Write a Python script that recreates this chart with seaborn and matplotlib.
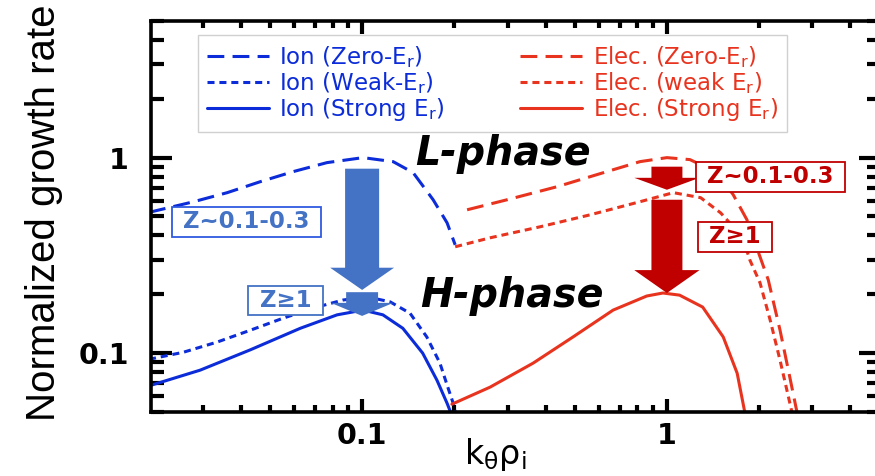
import numpy as np
import pandas as pd
import seaborn as sns
import matplotlib.pyplot as plt
from matplotlib.ticker import FixedLocator, LogLocator, NullFormatter, FuncFormatter

# values: k_theta*rho_i and normalized growth rate
ion_zero_k = [0.02, 0.0279, 0.0361, 0.0463, 0.0594, 0.0767, 0.1007, 0.1264, 0.147, 0.171, 0.190, 0.202]
ion_zero_g = [0.525, 0.594, 0.662, 0.753, 0.848, 0.943, 1.0, 0.954, 0.838, 0.609, 0.464, 0.358]

ion_weak_k = [0.02, 0.0259, 0.0335, 0.043, 0.0551, 0.0711, 0.0867, 0.104, 0.1235, 0.1436, 0.163, 0.180, 0.191, 0.199, 0.202]
ion_weak_g = [0.093, 0.101, 0.114, 0.131, 0.151, 0.172, 0.187, 0.194, 0.183, 0.160, 0.121, 0.0889, 0.067, 0.0554, 0.05]

ion_strong_k = [0.02, 0.0294, 0.043, 0.0627, 0.0828, 0.1007, 0.117, 0.136, 0.158, 0.176, 0.19, 0.195]
ion_strong_g = [0.068, 0.0818, 0.104, 0.134, 0.157, 0.166, 0.157, 0.134, 0.100, 0.0727, 0.0554, 0.05]

elec_zero_k = [0.221, 0.299, 0.436, 0.635, 0.816, 1.0, 1.19, 1.46, 1.65, 1.83, 2.02, 2.15, 2.35, 2.53, 2.67]
elec_zero_g = [0.541, 0.609, 0.710, 0.848, 0.954, 1.0, 0.977, 0.838, 0.646, 0.481, 0.311, 0.237, 0.131, 0.0753, 0.05]

elec_weak_k = [0.202, 0.263, 0.384, 0.560, 0.816, 1.05, 1.29, 1.50, 1.77, 1.87, 2.02, 2.18, 2.35, 2.57]
elec_weak_g = [0.350, 0.389, 0.443, 0.510, 0.595, 0.662, 0.624, 0.522, 0.393, 0.300, 0.229, 0.148, 0.092, 0.05]

elec_strong_k = [0.197, 0.263, 0.364, 0.492, 0.666, 0.859, 0.970, 1.10, 1.31, 1.53, 1.70, 1.80]
elec_strong_g = [0.0548, 0.067, 0.0889, 0.121, 0.166, 0.196, 0.203, 0.198, 0.172, 0.121, 0.0789, 0.05]

labels = ['Ion (Zero-E$_\\mathregular{r}$)', 'Ion (Weak-E$_\\mathregular{r}$)', 'Ion (Strong E$_\\mathregular{r}$)',
          'Elec. (Zero-E$_\\mathregular{r}$)', 'Elec. (weak E$_\\mathregular{r}$)', 'Elec. (Strong E$_\\mathregular{r}$)']

blue = '#0b2cd8'
red = '#e8341f'
long_dash = (5.5, 2.7)
short_dash = (2.3, 1.6)

sns.set_theme(style='ticks')
plt.rcParams['font.family'] = ['DejaVu Sans']
plt.rcParams['mathtext.fontset'] = 'dejavusans'
plt.rcParams['text.color'] = 'black'
plt.rcParams['axes.labelcolor'] = 'black'
plt.rcParams['xtick.color'] = 'black'
plt.rcParams['ytick.color'] = 'black'

fig = plt.figure(figsize=(8.75, 4.76), dpi=100)
ax = fig.add_axes([0.1726, 0.1345, 0.8331, 0.8214])
ax.set_xscale('log')
ax.set_yscale('log')

series = [
    (ion_zero_k, ion_zero_g, blue, long_dash),
    (ion_weak_k, ion_weak_g, blue, short_dash),
    (ion_strong_k, ion_strong_g, blue, None),
    (elec_zero_k, elec_zero_g, red, long_dash),
    (elec_weak_k, elec_weak_g, red, short_dash),
    (elec_strong_k, elec_strong_g, red, None),
]
for lab, (k, g, col, dash) in zip(labels, series):
    df = pd.DataFrame({'k': k, 'gamma': g})
    sns.lineplot(data=df, x='k', y='gamma', ax=ax, color=col, lw=2.2, label=lab)
    if dash is not None:
        ax.lines[-1].set_dashes(dash)

ax.set_xlim(0.0203, 5.0)
ax.set_ylim(0.05, 5.0)

fmt = FuncFormatter(lambda v, _: f'{v:g}')
ax.xaxis.set_major_locator(FixedLocator([0.1, 1]))
ax.yaxis.set_major_locator(FixedLocator([0.1, 1]))
ax.xaxis.set_major_formatter(fmt)
ax.yaxis.set_major_formatter(fmt)
for axis in (ax.xaxis, ax.yaxis):
    axis.set_minor_locator(LogLocator(base=10, subs=np.arange(2, 10), numticks=20))
    axis.set_minor_formatter(NullFormatter())

ax.tick_params(which='both', direction='in', top=True, right=True, width=3, color='black',
               labelcolor='black', labelsize=20.5)
ax.tick_params(axis='x', which='major', length=9.5, pad=7)
ax.tick_params(axis='x', which='minor', length=5)
ax.tick_params(axis='y', which='major', length=15, pad=16)
ax.tick_params(axis='y', which='minor', length=9.5)
plt.setp(ax.get_xticklabels() + ax.get_yticklabels(), fontweight='bold')
for sp in ax.spines.values():
    sp.set_linewidth(2.6)
    sp.set_color('black')

ax.set_ylabel('Normalized growth rate', family=['Liberation Sans', 'DejaVu Sans'], fontsize=29, color='black')
ax.yaxis.set_label_coords(-0.121, 0.509)
ax.set_xlabel(r'$\mathrm{k_{\theta}\rho_{i}}$', fontsize=24, color='black')
ax.xaxis.set_label_coords(0.472, -0.061)

leg = ax.legend(ncol=2, loc='upper left', bbox_to_anchor=(0.0645, 0.964), borderaxespad=0,
                fontsize=16.5, handlelength=2.7, handletextpad=0.45, columnspacing=3.3,
                borderpad=0.4, labelspacing=0.0, frameon=True, fancybox=False,
                edgecolor='#d0d0d0', framealpha=1)
leg.get_frame().set_linewidth(1.0)
for txt, line in zip(leg.get_texts(), ax.lines):
    txt.set_color(line.get_color())

ax.text(0.29, 1.04, 'L-phase', style='italic', weight='bold', fontsize=28.5, ha='center', va='center',
        color='black', zorder=6)
ax.text(0.31, 0.196, 'H-phase', style='italic', weight='bold', fontsize=28.5, ha='center', va='center',
        color='black', zorder=6)


def draw_arrow(k, top, tip, color, tail, head_w, head_l):
    ax.annotate('', xy=(k, tip), xytext=(k, top),
                arrowprops=dict(arrowstyle=f'simple,head_length={head_l},head_width={head_w},tail_width={tail}',
                                mutation_scale=1, fc=color, ec='none', shrinkA=0, shrinkB=0),
                zorder=4)


draw_arrow(0.1, 0.878, 0.2105, '#4472c4', 24.5, 46, 16)
draw_arrow(0.1, 0.205, 0.155, '#4472c4', 23, 45, 9.4)
draw_arrow(1.0, 0.899, 0.685, '#c00000', 22.3, 47, 8.6)
draw_arrow(1.0, 0.609, 0.203, '#c00000', 22.3, 47, 16.5)

box_kw = dict(weight='bold', fontsize=16.5, ha='center', va='center', zorder=5)
ax.text(0.0418, 0.470, ' Z~0.1-0.3 ', color='#4472c4',
        bbox=dict(boxstyle='square,pad=0.15', fc='white', ec='#2f5be0', lw=1.3), **box_kw)
ax.text(0.056, 0.186, ' Z≥1 ', color='#4472c4',
        bbox=dict(boxstyle='square,pad=0.15', fc='white', ec='#4472c4', lw=1.3), **box_kw)
ax.text(2.19, 0.799, ' Z~0.1-0.3 ', color='#c00000',
        bbox=dict(boxstyle='square,pad=0.15', fc='white', ec='#c00000', lw=1.3), **box_kw)
ax.text(1.67, 0.394, ' Z≥1 ', color='#c00000',
        bbox=dict(boxstyle='square,pad=0.15', fc='white', ec='#c00000', lw=1.3), **box_kw)

fig.savefig('out.png', dpi=100)
